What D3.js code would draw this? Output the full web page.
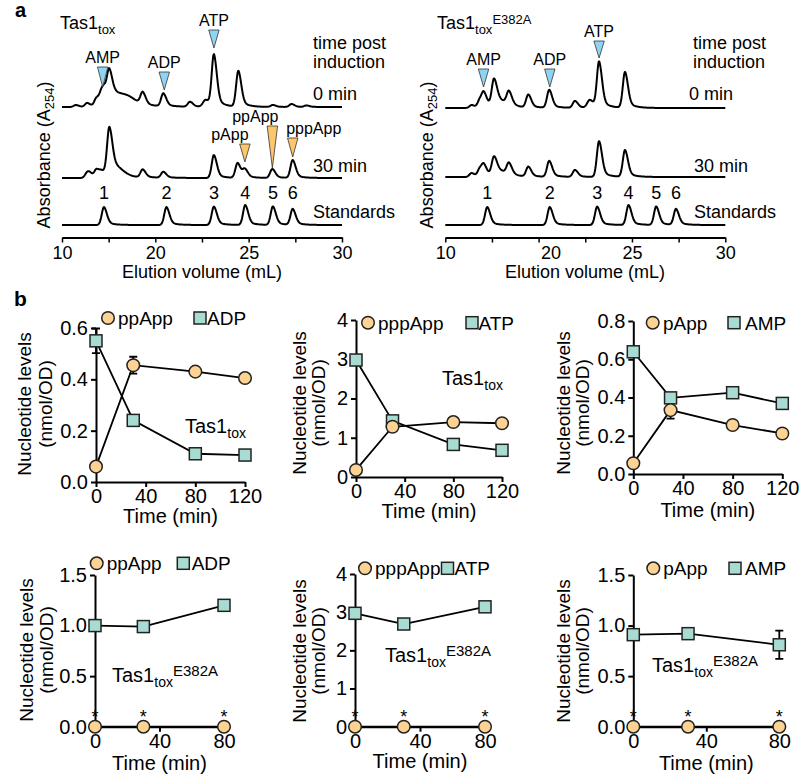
<!DOCTYPE html>
<html><head><meta charset="utf-8">
<script src="https://cdn.jsdelivr.net/npm/d3@7/dist/d3.min.js"></script>
<style>
body{margin:0;background:#fff}
svg text{font-family:"Liberation Sans",Arial,Helvetica,sans-serif;fill:#000}
</style>
</head><body><svg id="c" width="800" height="784"></svg>
<script>
// ================= DATA =================
// Chromatograms (panel a): peaks as [elution volume mL, relative absorbance, width factor]
const elutionTicks = [10, 15, 20, 22.5, 25, 27.5, 30];
const elutionTickLabels = [10, 20, 25, 30];
const traceNames = ["0 min", "30 min", "Standards"];
const wtPeaks0 = [[11.5,2,1],[12.7,4,1],[13.7,8,1],[14.25,10,1],[14.55,9,1],[15.07,26,1],[15.8,12,4],[17.3,4,3],[18.65,12,1],[20.43,13,1],[21.86,5,1],[22.7,7,1.2],[23.14,52,1],[24.45,36,1],[26.3,2,1],[27.3,3,1],[28.1,1.5,1]];
const wtPeaks30 = [[12.7,5,1],[13.0,3,1],[13.71,8,1],[14.25,4,1],[15.07,43,1],[15.6,10,3],[18.65,8,1],[20.43,6,1],[23.14,23,1],[24.41,15,1],[24.8,8,1],[26.27,9,1],[27.36,18,1]];
const stdPeaks = [[14.5,18,1],[20.6,18,1],[23.14,18.5,1],[24.82,20,1],[26.3,18.5,1],[27.36,16,1]];
const mutPeaks0 = [[12.83,3,1],[13.71,8,1],[14.15,13,1],[15.22,25,1],[15.9,6,3],[16.82,13,1],[18.9,13,1],[20.57,18,1],[21.95,7,1],[22.75,8,1.2],[23.24,46,1],[24.63,36,1]];
const mutPeaks30 = [[12.83,4,1],[13.71,8,1],[14.15,10,1],[15.22,17,1],[15.9,5,3],[16.82,11,1],[18.9,10,1],[20.57,16,1],[21.95,7,1],[23.24,36,1],[24.63,27,1]];
const standardLabels = ["1","2","3","4","5","6"];
// annotations: [label, mL, trace index, tip height (rel. absorbance), triangle length, colour group]
const wtMarks = [["AMP",14.36,0,20,20,"b"],["ADP",20.48,0,17,18,"b"],["ATP",23.14,0,59,18,"b"],["pApp",24.8,1,16,18,"o"],["ppApp",26.27,1,10,42,"o"],["pppApp",27.36,1,21,19,"o"]];
const mutMarks = [["AMP",14.1,0,21,18,"b"],["ADP",20.6,0,21,18,"b"],["ATP",23.24,0,50,17,"b"]];

// Nucleotide levels (panel b)
const timesWT = [0, 30, 80, 120];
const timesMut = [0, 30, 80];
const wt_ppApp = [0.06, 0.455, 0.43, 0.405], wt_ppAppErr = [0, 0.033, 0, 0];
const wt_ADP = [0.55, 0.24, 0.11, 0.105], wt_ADPErr = [0.048, 0, 0, 0];
const wt_pppApp = [0.18, 1.28, 1.40, 1.37], wt_pppAppErr = [0, 0, 0, 0];
const wt_ATP = [2.98, 1.43, 0.83, 0.68], wt_ATPErr = [0, 0, 0, 0];
const wt_pApp = [0.056, 0.334, 0.256, 0.212], wt_pAppErr = [0, 0.044, 0, 0];
const wt_AMP = [0.639, 0.398, 0.425, 0.369], wt_AMPErr = [0, 0, 0.015, 0];
const mut_ppApp = [0, 0, 0], mut_ADP = [1.0, 0.99, 1.20], mut_ADPErr = [0, 0, 0];
const mut_pppApp = [0, 0, 0], mut_ATP = [2.97, 2.69, 3.14], mut_ATPErr = [0, 0, 0];
const mut_pApp = [0, 0, 0], mut_AMP = [0.91, 0.92, 0.81], mut_AMPErr = [0.02, 0.035, 0.14];
const zeros3 = [0, 0, 0];
const ticksWTx = [0, 40, 80, 120], ticksMutx = [0, 40, 80];

// ================= STYLE / LAYOUT =================
const C_OR = "#FCD393", C_TE = "#A8DCD2", C_BLUE = "#8FD4F3", C_ORT = "#FDC56C";
const svg = d3.select("#c");
const FONT = '"Liberation Sans",Arial,Helvetica,sans-serif';

function addTas(g, x, y, size, subSize, mut, supSize) {
  const t = g.append("text").attr("x", x).attr("y", y).attr("font-size", size);
  t.append("tspan").text("Tas1");
  t.append("tspan").attr("font-size", subSize).attr("dy", size * 0.27).text("tox");
  if (mut) t.append("tspan").attr("font-size", supSize).attr("dy", -size * 0.57).text("E382A");
  return t;
}

svg.append("text").attr("x", 15).attr("y", 17).attr("font-size", 20).attr("font-weight", "bold").text("a");
svg.append("text").attr("x", 14).attr("y", 306).attr("font-size", 21).attr("font-weight", "bold").text("b");

// ---------- chromatograms ----------
const chromLayout = [
  {xr:[62,155.3,342], base:[107,178,225], peaks:[wtPeaks0, wtPeaks30, stdPeaks], marks:wtMarks,
   title:[60,29,false], ylab:[50,155], textX:[313,313,313], xlab:[202,278], shift20:0,
   labelDx:{AMP:0,ADP:0,ATP:0,pApp:-15,ppApp:-17,pppApp:21}},
  {xr:[445.3,538.6,725.3], base:[108,177,225], peaks:[mutPeaks0, mutPeaks30, stdPeaks], marks:mutMarks,
   title:[437,29,true], ylab:[433,155], textX:[689,694,694], xlab:[585,278], shift20:12,
   labelDx:{AMP:0,ADP:0,ATP:0}}
];
const absScale = d3.scaleLinear().domain([0, 60]).range([0, 60]);

function kernel(d, wf) {
  const sl = 2.2 * wf, sr = 2.9 * wf;
  if (d < 0) return Math.exp(-0.5 * (d / sl) ** 2);
  return 0.78 * Math.exp(-0.5 * (d / sr) ** 2) + 0.22 * Math.exp(-d / (7 * wf));
}

chromLayout.forEach(L => {
  const g = svg.append("g");
  const x = d3.scaleLinear().domain([10, 20, 30]).range(L.xr);
  const axY = 237.5;
  const ax = g.append("g").attr("transform", `translate(0,${axY})`)
    .call(d3.axisBottom(x).tickValues(elutionTicks).tickSize(5).tickSizeOuter(0).tickPadding(4)
      .tickFormat(d => elutionTickLabels.includes(d) ? d : ""));
  ax.select(".domain").attr("stroke-width", 2);
  ax.selectAll(".tick line").attr("stroke-width", 1.5);
  ax.selectAll(".tick text").attr("font-size", 18).attr("font-family", FONT)
    .attr("x", d => d === 20 ? L.shift20 : 0);
  g.append("text").attr("x", L.xlab[0]).attr("y", L.xlab[1]).attr("text-anchor", "middle")
    .attr("font-size", 18).text("Elution volume (mL)");
  const yl = g.append("text").attr("transform", `translate(${L.ylab[0]},${L.ylab[1]}) rotate(-90)`)
    .attr("text-anchor", "middle").attr("font-size", 18);
  yl.append("tspan").text("Absorbance (A");
  yl.append("tspan").attr("font-size", 13).attr("dy", 4).text("254");
  yl.append("tspan").attr("dy", -4).text(")");
  addTas(g, L.title[0], L.title[1], 18, 13, L.title[2], 13);

  const line = d3.line().x(d => x(d[0])).y(d => d[1]);
  L.peaks.forEach((pk, i) => {
    const pts = [];
    for (let px = L.xr[0]; px <= L.xr[2]; px += 0.5) {
      const v = x.invert(px);
      let s = 0;
      pk.forEach(p => { s += p[1] * kernel(px - x(p[0]), p[2]); });
      pts.push([v, L.base[i] - absScale(s)]);
    }
    g.append("path").attr("d", line(pts)).attr("fill", "none").attr("stroke", "#000")
      .attr("stroke-width", 2).attr("stroke-linejoin", "round");
  });
  // right-hand labels
  g.append("text").attr("x", L.textX[0] + (L.title[2] ? 4 : 0)).attr("y", 49).attr("font-size", 18).text("time post");
  g.append("text").attr("x", L.textX[0] + (L.title[2] ? 4 : 0)).attr("y", 68).attr("font-size", 18).text("induction");
  const lblY = [100, 172, 218];
  traceNames.forEach((n, i) => g.append("text").attr("x", L.textX[i]).attr("y", lblY[i]).attr("font-size", 18).text(n));
  // standards numbers
  stdPeaks.forEach((p, i) => g.append("text").attr("x", x(p[0])).attr("y", 199).attr("text-anchor", "middle")
    .attr("font-size", 18).text(standardLabels[i]));
  // triangles
  L.marks.forEach(m => {
    const tipY = L.base[m[2]] - absScale(m[3]);
    const topY = tipY - m[4];
    const cx = x(m[1]);
    g.append("path").attr("d", `M${cx - 5.2},${topY}L${cx + 5.2},${topY}L${cx},${tipY}Z`)
      .attr("fill", m[5] === "b" ? C_BLUE : C_ORT).attr("stroke", "#333").attr("stroke-width", 0.8);
    g.append("text").attr("x", cx + L.labelDx[m[0]]).attr("y", topY - 4).attr("text-anchor", "middle")
      .attr("font-size", 16).text(m[0]);
  });
});

// ---------- nucleotide level panels ----------
const panels = [
  {xr:[96,245], yr:[482,328], times:timesWT, xt:ticksWTx, ymax:0.6, yt:[0,0.2,0.4,0.6], fmt:".1f",
   c:wt_ppApp, cE:wt_ppAppErr, s:wt_ADP, sE:wt_ADPErr, names:["ppApp","ADP"],
   leg:[108,318,118,200,207], tas:[185,433,false], ylab:[31,52,404], xlabY:523, star:false},
  {xr:[356,502], yr:[477,320], times:timesWT, xt:ticksWTx, ymax:4, yt:[0,1,2,3,4], fmt:"d",
   c:wt_pppApp, cE:wt_pppAppErr, s:wt_ATP, sE:wt_ATPErr, names:["pppApp","ATP"],
   leg:[368,322.7,378,472,478.5], tas:[442,385,false], ylab:[306,325,403], xlabY:518, star:false},
  {xr:[633.3,782.3], yr:[474,321], times:timesWT, xt:ticksWTx, ymax:0.8, yt:[0,0.2,0.4,0.6,0.8], fmt:".1f",
   c:wt_pApp, cE:wt_pAppErr, s:wt_AMP, sE:wt_AMPErr, names:["pApp","AMP"],
   leg:[652.7,322.7,663,734,745], tas:null, ylab:[570,589,403], xlabY:517, star:false},
  {xr:[95,224], yr:[726.7,575], times:timesMut, xt:ticksMutx, ymax:1.5, yt:[0,0.5,1,1.5], fmt:".1f",
   c:mut_ppApp, cE:zeros3, s:mut_ADP, sE:mut_ADPErr, names:["ppApp","ADP"],
   leg:[96.7,563.3,106.7,183.3,191.7], tas:[112,682,true], ylab:[33,53,650], xlabY:770, star:true},
  {xr:[355,485], yr:[726.7,574], times:timesMut, xt:ticksMutx, ymax:4, yt:[0,1,2,3,4], fmt:"d",
   c:mut_pppApp, cE:zeros3, s:mut_ATP, sE:mut_ATPErr, names:["pppApp","ATP"],
   leg:[365,568.3,375,447.5,454.5], tas:[385,662,true], ylab:[306,325,651], xlabY:768, star:true},
  {xr:[633.3,779.3], yr:[726.7,575], times:timesMut, xt:ticksMutx, ymax:1.5, yt:[0,0.5,1,1.5], fmt:".1f",
   c:mut_pApp, cE:zeros3, s:mut_AMP, sE:mut_AMPErr, names:["pApp","AMP"],
   leg:[653.3,568.3,663.3,735,745], tas:[652,672,true], ylab:[570,589,651], xlabY:770, star:true}
];

panels.forEach(P => {
  const g = svg.append("g");
  const x = d3.scaleLinear().domain([0, P.xt[P.xt.length - 1]]).range(P.xr);
  const y = d3.scaleLinear().domain([0, P.ymax]).range(P.yr);
  const fmt = d3.format(P.fmt);
  const ay = g.append("g").attr("transform", `translate(${P.xr[0]},0)`)
    .call(d3.axisLeft(y).tickValues(P.yt).tickSize(5).tickSizeOuter(0).tickPadding(3).tickFormat(fmt));
  const axx = g.append("g").attr("transform", `translate(0,${P.yr[0]})`)
    .call(d3.axisBottom(x).tickValues(P.xt).tickSize(5).tickSizeOuter(0).tickPadding(2));
  [ay, axx].forEach(a => {
    a.select(".domain").attr("stroke-width", 2);
    a.selectAll(".tick line").attr("stroke-width", 2);
    a.selectAll(".tick text").attr("font-size", 20).attr("font-family", FONT);
  });
  g.append("text").attr("x", (P.xr[0] + P.xr[1]) / 2).attr("y", P.xlabY).attr("text-anchor", "middle")
    .attr("font-size", 20).text("Time (min)");
  g.append("text").attr("transform", `translate(${P.ylab[0]},${P.ylab[2]}) rotate(-90)`)
    .attr("text-anchor", "middle").attr("font-size", 19).text("Nucleotide levels");
  g.append("text").attr("transform", `translate(${P.ylab[1]},${P.ylab[2]}) rotate(-90)`)
    .attr("text-anchor", "middle").attr("font-size", 19).text("(nmol/OD)");
  if (P.tas) addTas(g, P.tas[0], P.tas[1], 20, 14, P.tas[2], 15);

  const line = d3.line().x((d, i) => x(P.times[i])).y(d => y(d));
  g.append("path").attr("d", line(P.c)).attr("fill", "none").attr("stroke", "#000").attr("stroke-width", 1.8);
  g.append("path").attr("d", line(P.s)).attr("fill", "none").attr("stroke", "#000").attr("stroke-width", 1.8);
  // error bars
  const eb = (vals, errs) => vals.forEach((v, i) => {
    const e = errs[i]; if (!e) return;
    const cx = x(P.times[i]);
    g.append("path").attr("d", `M${cx},${y(v - e)}V${y(v + e)}M${cx - 4},${y(v - e)}H${cx + 4}M${cx - 4},${y(v + e)}H${cx + 4}`)
      .attr("stroke", "#000").attr("stroke-width", 1.8).attr("fill", "none");
  });
  eb(P.s, P.sE); eb(P.c, P.cE);
  // markers
  P.s.forEach((v, i) => g.append("rect").attr("x", x(P.times[i]) - 6).attr("y", y(v) - 6).attr("width", 12).attr("height", 12)
    .attr("fill", C_TE).attr("stroke", "#222").attr("stroke-width", 1.5));
  P.c.forEach((v, i) => g.append("circle").attr("cx", x(P.times[i])).attr("cy", y(v)).attr("r", 6.3)
    .attr("fill", C_OR).attr("stroke", "#222").attr("stroke-width", 1.5));
  if (P.star) P.c.forEach((v, i) => g.append("text").attr("x", x(P.times[i])).attr("y", y(v) - 4)
    .attr("text-anchor", "middle").attr("font-size", 18).text("*"));
  // legend
  const L = P.leg;
  g.append("circle").attr("cx", L[0]).attr("cy", L[1]).attr("r", 6.3).attr("fill", C_OR).attr("stroke", "#222").attr("stroke-width", 1.5);
  g.append("text").attr("x", L[2]).attr("y", L[1] + 7).attr("font-size", 19).text(P.names[0]);
  g.append("rect").attr("x", L[3] - 6).attr("y", L[1] - 6).attr("width", 12).attr("height", 12).attr("fill", C_TE).attr("stroke", "#222").attr("stroke-width", 1.5);
  g.append("text").attr("x", L[4]).attr("y", L[1] + 7).attr("font-size", 19).text(P.names[1]);
});
</script>
</body></html>
